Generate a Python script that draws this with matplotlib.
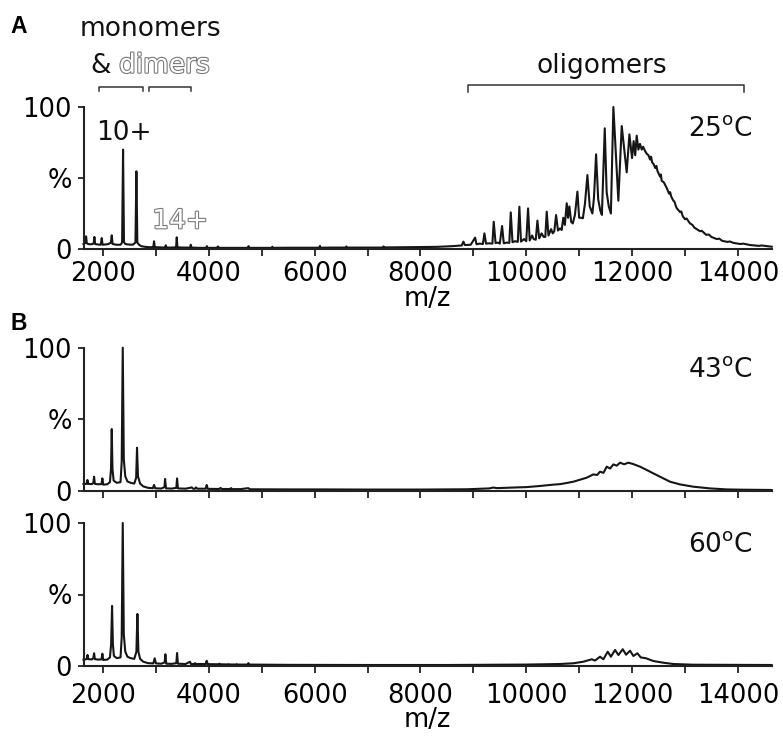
import matplotlib
matplotlib.use("Agg")
import matplotlib.pyplot as plt
import matplotlib.patheffects as pe
import matplotlib.transforms as mtransforms

plt.rcParams['font.family'] = ['DejaVu Sans']
plt.rcParams['mathtext.fontset'] = 'dejavusans'

# ---------------- data (m/z, relative intensity %) ----------------
mz_25 = [1630, 1655, 1668, 1679, 1692, 1720, 1760, 1800, 1822, 1836, 1850, 1900, 1950, 1962, 1975,
         1990, 2050, 2100, 2148, 2164, 2180, 2250, 2330, 2360, 2378, 2395, 2420, 2470, 2560, 2612,
         2630, 2648, 2680, 2720, 2800, 2900, 2950, 2964, 2978, 3050, 3170, 3185, 3200, 3300, 3380,
         3393, 3406, 3500, 3645, 3658, 3671, 3800, 3950, 3962, 3975, 4150, 4172, 4190, 4400, 4735,
         4750, 4765, 5000, 5190, 5200, 5210, 5500, 5900, 6090, 6100, 6110, 6300, 6590, 6600, 6610,
         7000, 7290, 7300, 7310, 7600, 8000, 8300, 8600, 8780,
         8812, 8840, 8950, 9033, 9060, 9120, 9180, 9209, 9240, 9300, 9360, 9385, 9420, 9470, 9500,
         9543, 9575, 9630, 9680, 9707, 9740, 9790, 9840, 9870, 9900, 9960, 10000, 10034, 10065,
         10110, 10140, 10180, 10211, 10245, 10290, 10330, 10360, 10387, 10420, 10470, 10500, 10530,
         10564, 10600, 10640, 10670, 10700, 10730, 10765, 10790, 10815, 10850, 10880, 10920, 10967,
         11000, 11040, 11070, 11110, 11156, 11200, 11250, 11280, 11320, 11360, 11400, 11430, 11484,
         11520, 11560, 11600, 11647, 11741, 11805, 11899, 11950, 12000, 12030, 12060, 12088, 12120,
         12150, 12183, 12210, 12246, 12280, 12310, 12340, 12360, 12380, 12403, 12440, 12460, 12480,
         12529, 12545, 12560, 12600, 12620, 12655, 12700, 12720, 12740, 12781, 12800, 12840, 12907,
         12930, 12960, 13000, 13030, 13096, 13140, 13180, 13285, 13320, 13400, 13450, 13500, 13600,
         13650, 13700, 13800, 13850, 13915, 14050, 14100, 14230, 14400, 14450, 14640]
pct_25 = [3.5, 4.0, 5.0, 8.9, 4.0, 3.5, 3.3, 3.5, 4.0, 8.5, 3.5, 3.2, 3.0, 4.0, 7.7,
          3.0, 3.2, 3.5, 4.5, 9.6, 3.5, 3.0, 3.0, 4.5, 70.0, 5.0, 3.5, 3.2, 3.0, 4.5,
          54.7, 4.5, 3.0, 2.0, 1.5, 1.2, 1.5, 5.4, 1.3, 1.2, 1.0, 2.6, 1.0, 1.0, 1.2,
          8.2, 1.2, 1.0, 1.0, 3.0, 1.0, 0.8, 0.8, 2.0, 0.8, 0.8, 1.8, 0.8, 0.8, 0.8,
          2.0, 0.8, 0.8, 0.8, 1.6, 0.8, 0.9, 0.9, 0.9, 2.2, 0.9, 1.0, 1.0, 1.8, 1.0,
          1.0, 1.0, 1.8, 1.1, 1.2, 1.3, 1.5, 2.0, 2.5,
          5.2, 2.8, 3.0, 8.0, 3.3, 3.8, 3.5, 11.0, 3.8, 4.0, 3.8, 19.2, 4.2, 4.5, 3.8,
          16.2, 4.0, 4.5, 4.3, 25.8, 4.8, 5.5, 5.0, 29.8, 5.2, 7.0, 5.5, 28.6, 6.0,
          9.5, 7.0, 6.5, 20.0, 7.5, 11.0, 8.5, 8.5, 26.3, 9.5, 14.0, 11.0, 12.5,
          23.9, 13.0, 14.5, 13.4, 22.0, 17.0, 32.2, 22.0, 30.0, 19.0, 18.0, 24.0, 40.4,
          22.0, 22.0, 21.6, 32.0, 52.1, 30.0, 25.0, 36.0, 66.7, 35.0, 27.0, 24.0, 85.0,
          40.0, 30.0, 25.0, 100.0, 34.0, 86.6, 54.0, 80.7, 64.0, 76.0, 66.0, 79.8, 70.0,
          74.0, 70.0, 72.0, 69.0, 67.0, 66.0, 63.0, 65.0, 61.0, 60.0, 57.0, 58.5, 55.0,
          51.0, 52.5, 48.0, 47.0, 45.5, 43.0, 39.0, 40.0, 37.0, 34.0, 33.5, 29.0, 26.0,
          26.5, 23.0, 21.0, 21.5, 18.0, 17.0, 15.0, 12.5, 12.8, 10.0, 10.2, 8.5, 7.0,
          7.3, 5.8, 5.0, 5.3, 4.3, 3.5, 3.8, 2.8, 2.2, 2.5, 1.6]

mz_43 = [1630, 1690, 1704, 1718, 1790, 1816, 1830, 1845, 1900, 1970, 1987, 2003, 2080, 2130, 2150,
         2164, 2178, 2200, 2260, 2330, 2352, 2372, 2392, 2420, 2460, 2520, 2590, 2625, 2642, 2660,
         2700, 2760, 2850, 2940, 2964, 2985, 3100, 3160, 3172, 3190, 3300, 3385, 3399, 3415, 3560,
         3676, 3700, 3740, 3755, 3780, 3940, 3959, 3978, 4200, 4220, 4240, 4400, 4420, 4440, 4600,
         4747, 4770, 5500, 6200, 7000, 8000, 8874, 9300, 9378, 9450, 9600, 9819, 10000, 10260,
         10500, 10639, 10765, 10891, 11143, 11269, 11340, 11395, 11460, 11521, 11585, 11647, 11710,
         11773, 11850, 11931, 12025, 12151, 12277, 12403, 12529, 12718, 12907, 13159, 13474, 13790,
         14100, 14640]
pct_43 = [4.7, 4.8, 7.5, 4.8, 4.6, 5.5, 9.8, 4.8, 4.5, 4.6, 8.6, 4.2, 4.5, 6.0, 15.0,
          43.1, 15.0, 7.0, 5.5, 6.0, 20.0, 100.0, 22.0, 10.0, 6.5, 5.5, 5.0, 9.0, 30.0, 10.0,
          5.0, 3.0, 2.0, 1.7, 4.0, 1.7, 1.5, 2.5, 8.2, 1.6, 1.5, 2.0, 8.6, 1.6, 1.4,
          2.3, 1.4, 1.4, 2.3, 1.4, 1.4, 4.0, 1.3, 1.2, 2.0, 1.2, 1.2, 1.8, 1.1, 1.1,
          1.8, 1.0, 0.9, 0.9, 0.8, 0.8, 1.0, 1.6, 2.2, 1.8, 2.0, 2.3, 2.5, 3.3,
          4.2, 4.6, 5.4, 6.3, 9.1, 11.4, 11.0, 13.3, 12.5, 16.8, 15.5, 18.4, 17.5,
          19.6, 18.5, 19.6, 18.6, 16.8, 14.5, 12.1, 9.8, 6.3, 4.4, 2.8, 1.6, 0.9,
          0.7, 0.5]

mz_60 = [1630, 1690, 1706, 1720, 1790, 1816, 1830, 1845, 1900, 1970, 1987, 2003, 2080, 2130, 2152,
         2170, 2186, 2205, 2260, 2330, 2352, 2372, 2392, 2420, 2460, 2520, 2590, 2630, 2649, 2668,
         2700, 2760, 2850, 2950, 2976, 3000, 3100, 3164, 3178, 3195, 3300, 3385, 3399, 3415, 3560,
         3644, 3660, 3725, 3738, 3755, 3940, 3959, 3978, 4185, 4199, 4215, 4360, 4370, 4380, 4516,
         4526, 4536, 4735, 4747, 4760, 5500, 7000, 8500, 10000, 10639, 10891, 11080, 11238, 11300,
         11395, 11458, 11540, 11600, 11679, 11742, 11824, 11887, 11962, 12025, 12101, 12164, 12265,
         12400, 12592, 12780, 13159, 14640]
pct_60 = [4.5, 4.8, 7.7, 4.8, 4.6, 5.5, 8.9, 4.8, 4.5, 4.6, 8.6, 4.2, 4.5, 6.0, 15.0,
          42.0, 15.0, 7.0, 5.5, 6.0, 20.0, 100.0, 22.0, 10.0, 6.5, 5.5, 5.0, 10.0, 36.4, 10.0,
          5.0, 3.0, 2.0, 1.8, 5.4, 1.8, 1.6, 2.5, 8.2, 1.6, 1.5, 2.0, 9.1, 1.6, 1.4,
          3.0, 1.4, 1.4, 2.0, 1.4, 1.4, 3.7, 1.3, 1.2, 1.6, 1.2, 1.1, 1.3, 1.1, 1.0,
          1.3, 1.0, 1.0, 2.0, 1.0, 0.8, 0.7, 0.7, 1.0, 1.4, 1.9, 3.0, 4.7, 3.8,
          6.5, 4.7, 10.0, 6.5, 11.2, 7.7, 11.7, 7.9, 10.7, 7.0, 8.9, 6.0, 5.4,
          3.5, 2.3, 1.4, 0.9, 0.7]

spectra = [(mz_25, pct_25, "25"), (mz_43, pct_43, "43"), (mz_60, pct_60, "60")]

x_ticks = list(range(2000, 15000, 1000))
x_ticklabels = [str(t) if t % 2000 == 0 else "" for t in x_ticks]
y_ticks = [0, 50, 100]
y_ticklabels = ["0", "%", "100"]

# ---------------- figure ----------------
W, H = 783, 739
fig = plt.figure(figsize=(W / 100, H / 100), dpi=100)

left = 83.5 / W
width = (771.7 - 83.5) / W
panel_px = [(107, 249), (347.7, 490.7), (523, 666)]
axes = []
for top, bot in panel_px:
    ax = fig.add_axes([left, (H - bot) / H, width, (bot - top) / H])
    axes.append(ax)

FS = 18.5
line_c = "#161616"
for i, (ax, (mz, pct, temp)) in enumerate(zip(axes, spectra)):
    ax.plot(mz, pct, color=line_c, lw=1.5, clip_on=False, solid_joinstyle="round")
    ax.set_xlim(1630, 14640)
    ax.set_ylim(0, 100)
    for s in ("top", "right"):
        ax.spines[s].set_visible(False)
    for s in ("left", "bottom"):
        ax.spines[s].set_linewidth(1.5)
        ax.spines[s].set_color("#222222")
    ax.set_xticks(x_ticks)
    ax.set_yticks(y_ticks)
    ax.set_yticklabels(y_ticklabels, fontsize=FS)
    ax.tick_params(axis="x", direction="out", length=5, width=1.3, color="#222222")
    ax.tick_params(axis="y", direction="out", length=4, width=1.3, color="#222222", pad=4.5)
    if i == 1:
        ax.set_xticklabels([""] * len(x_ticks))
    else:
        ax.set_xticklabels(x_ticklabels, fontsize=FS)
        ax.set_xlabel("m/z", fontsize=FS, labelpad=-1)
    ax.tick_params(axis="x", pad=4 if i == 0 else 7)
    ax.text(14282, 0.795, r"%s$^{\mathrm{o}}$C" % temp,
            transform=mtransforms.blended_transform_factory(ax.transData, ax.transAxes),
            ha="right", va="baseline", fontsize=19, color="#111111")

axA = axes[0]
trA = mtransforms.blended_transform_factory(axA.transData, axA.transAxes)

# brackets
br_c = "#333333"
for x0, x1, yb, yt in [(1924, 2756, 1.113, 1.141), (2870, 3663, 1.113, 1.141), (8900, 14117, 1.106, 1.155)]:
    axA.plot([x0, x0, x1, x1], [yb, yt, yt, yb], color=br_c, lw=1.1, transform=trA, clip_on=False)

outline = [pe.withStroke(linewidth=1.6, foreground="#7a7a7a")]
axA.text(2888, 1.502, "monomers", transform=trA, ha="center", va="baseline", fontsize=19, color="#111111")
axA.text(1767, 1.242, "&", transform=trA, ha="left", va="baseline", fontsize=19, color="#111111")
axA.text(2302, 1.242, "dimers", transform=trA, ha="left", va="baseline", fontsize=19, color="white",
         path_effects=outline)
axA.text(11427, 1.237, "oligomers", transform=trA, ha="center", va="baseline", fontsize=19, color="#111111")
axA.text(2400, 0.768, "10+", transform=trA, ha="center", va="baseline", fontsize=19, color="#111111")
axA.text(3455, 0.146, "14+", transform=trA, ha="center", va="baseline", fontsize=19, color="white",
         path_effects=outline)

# panel letters
fig.text(10 / W, 1 - 33 / H, "A", fontsize=16.5, fontweight="bold", family="Liberation Sans", va="baseline")
fig.text(10 / W, 1 - 330 / H, "B", fontsize=16.5, fontweight="bold", family="Liberation Sans", va="baseline")

fig.savefig("out.png", dpi=100)
